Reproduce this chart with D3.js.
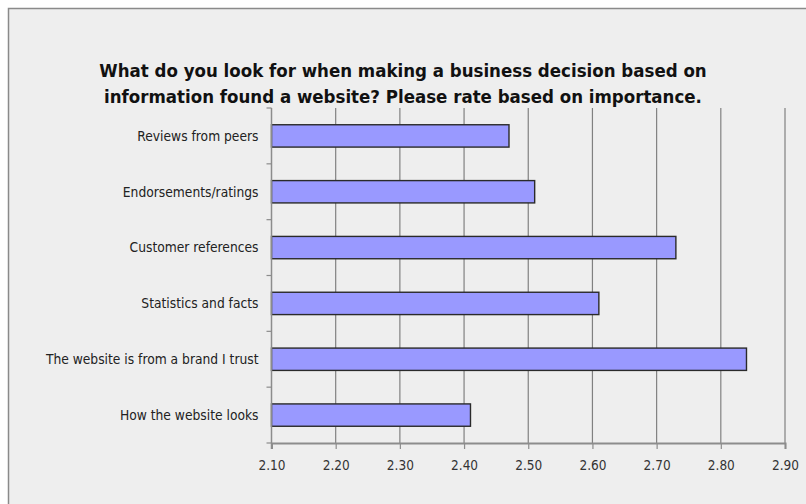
<!DOCTYPE html>
<html>
<head>
<meta charset="utf-8">
<script src="https://cdn.jsdelivr.net/npm/d3@7"></script>
<style>
body { margin: 0; background: #fff; }
text { font-family: "DejaVu Sans Condensed", "DejaVu Sans", sans-serif; }
</style>
</head>
<body>
<div id="chart"></div>
<script>
// data
const categories = ["Reviews from peers", "Endorsements/ratings", "Customer references",
	"Statistics and facts", "The website is from a brand I trust", "How the website looks"];
const values = [2.47, 2.51, 2.73, 2.61, 2.84, 2.41];
const xTicks = [2.10, 2.20, 2.30, 2.40, 2.50, 2.60, 2.70, 2.80, 2.90];
const titleLines = ["What do you look for when making a business decision based on",
	"information found a website? Please rate based on importance."];

const width = 806, height = 504;
const plot = { left: 271.5, right: 785, top: 108, bottom: 443 };

const svg = d3.select("#chart").append("svg")
	.attr("width", width)
	.attr("height", height);

// frame (only top and left edges are in view)
svg.append("rect")
	.attr("x", 8.5).attr("y", 8.5)
	.attr("width", 820).attr("height", 520)
	.attr("fill", "#eeeeee")
	.attr("stroke", "#8a8a8a")
	.attr("stroke-width", 1.5);

svg.selectAll(".title")
	.data(titleLines)
	.enter().append("text")
	.attr("class", "title")
	.attr("x", 403)
	.attr("y", (d, i) => 77 + i * 26)
	.attr("text-anchor", "middle")
	.style("font-size", "18.5px")
	.style("font-weight", "bold")
	.attr("fill", "#111")
	.text(d => d);

const x = d3.scaleLinear().domain([2.10, 2.90]).range([plot.left, plot.right]);
const y = d3.scaleBand().domain(categories).range([plot.top, plot.bottom]).paddingInner(0.6).paddingOuter(0.3);

// gridlines
svg.selectAll(".grid")
	.data(xTicks.slice(1))
	.enter().append("line")
	.attr("x1", d => x(d)).attr("x2", d => x(d))
	.attr("y1", plot.top).attr("y2", plot.bottom)
	.attr("stroke", "#808080")
	.attr("stroke-width", 1.2);

// bars
svg.selectAll(".bar")
	.data(categories)
	.enter().append("rect")
	.attr("x", x(2.10))
	.attr("y", d => y(d))
	.attr("width", (d, i) => x(values[i]) - x(2.10))
	.attr("height", y.bandwidth())
	.attr("fill", "#9999ff")
	.attr("stroke", "#2a2a2a")
	.attr("stroke-width", 1.4);

// x axis
const xAxis = svg.append("g")
	.attr("transform", `translate(0,${plot.bottom})`)
	.call(d3.axisBottom(x).tickValues(xTicks).tickFormat(d3.format(".2f")).tickSize(6).tickPadding(11));
xAxis.select(".domain").attr("stroke", "#8c8c8c").attr("stroke-width", 2);
xAxis.selectAll(".tick line").attr("stroke", "#8c8c8c").attr("stroke-width", 1.2);
xAxis.selectAll("text").style("font-size", "13.5px").attr("fill", "#333")
	.style("font-family", "'DejaVu Sans Condensed', sans-serif");

// y axis with ticks between categories
const edges = d3.range(categories.length + 1).map(i => plot.top + i * (plot.bottom - plot.top) / categories.length);
svg.append("line")
	.attr("x1", plot.left).attr("x2", plot.left)
	.attr("y1", plot.top).attr("y2", plot.bottom + 6)
	.attr("stroke", "#8c8c8c").attr("stroke-width", 1.5);
svg.selectAll(".ytick")
	.data(edges)
	.enter().append("line")
	.attr("x1", plot.left - 5).attr("x2", plot.left)
	.attr("y1", d => d).attr("y2", d => d)
	.attr("stroke", "#8c8c8c").attr("stroke-width", 1.2);
svg.selectAll(".ylabel")
	.data(categories)
	.enter().append("text")
	.attr("x", plot.left - 13)
	.attr("y", d => y(d) + y.bandwidth() / 2)
	.attr("dy", "0.35em")
	.attr("text-anchor", "end")
	.style("font-size", "13.7px")
	.attr("fill", "#222")
	.text(d => d);
</script>
</body>
</html>
